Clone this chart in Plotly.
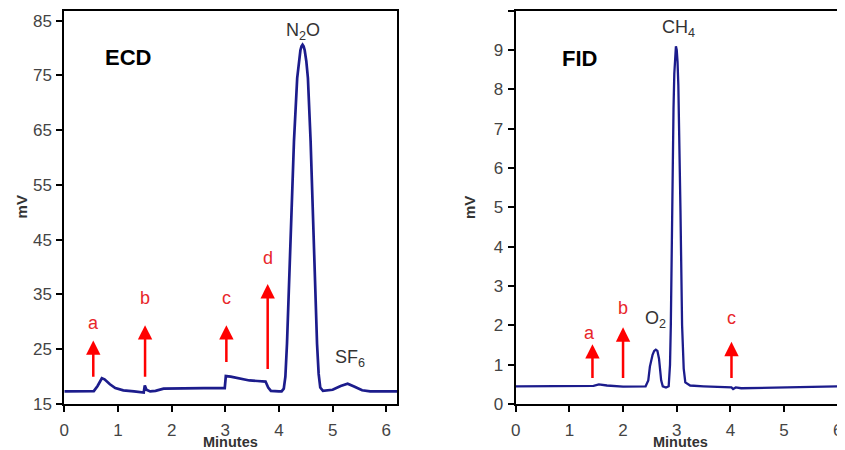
import plotly.graph_objects as go

# ---------------- data ----------------
ecd_minutes = [0.0, 0.3, 0.55, 0.62, 0.7, 0.75, 0.85, 0.95, 1.1, 1.3, 1.48, 1.5, 1.53, 1.6, 1.7, 1.85,
               2.2, 2.6, 2.99, 3.01, 3.1, 3.3, 3.45, 3.6, 3.75, 3.8, 3.85, 4.0,
               4.05, 4.09, 4.12, 4.15, 4.19, 4.23, 4.28, 4.34, 4.37, 4.40, 4.42, 4.44, 4.46, 4.48,
               4.51, 4.54, 4.59, 4.63, 4.67, 4.71, 4.74, 4.77, 4.82, 5.0, 5.15, 5.28, 5.4, 5.55,
               5.7, 6.2]
ecd_mv = [17.3, 17.3, 17.35, 18.3, 19.7, 19.5, 18.6, 17.9, 17.5, 17.3, 17.1, 18.4, 17.6, 17.3, 17.4, 17.8,
          17.9, 17.9, 17.9, 20.1, 20.0, 19.6, 19.3, 19.2, 19.1, 18.0, 17.4, 17.3,
          17.3, 17.8, 20.0, 26.0, 38.0, 50.0, 63.0, 74.5, 77.6, 79.6, 80.3, 80.6, 80.3, 79.6,
          77.6, 74.5, 63.0, 50.0, 37.0, 26.0, 20.5, 18.0, 17.4, 17.6, 18.3, 18.7, 18.2, 17.5,
          17.3, 17.3]

fid_minutes = [0.0, 1.0, 1.45, 1.55, 1.7, 2.0, 2.2, 2.42, 2.47, 2.5, 2.55, 2.58, 2.61, 2.64, 2.67,
               2.69, 2.71, 2.74, 2.8, 2.85, 2.875, 2.89, 2.91, 2.94, 2.955, 2.97, 2.985, 3.0,
               3.015, 3.03, 3.04, 3.07, 3.1, 3.13, 3.16, 3.25, 3.5, 3.9, 4.02, 4.05, 4.1, 4.2,
               5.0, 6.14]
fid_mv = [0.45, 0.45, 0.46, 0.5, 0.47, 0.44, 0.45, 0.45, 0.6, 0.95, 1.25, 1.35, 1.38, 1.35, 1.15,
          0.85, 0.6, 0.45, 0.42, 0.45, 1.0, 2.0, 4.9, 7.5, 8.4, 8.9, 9.09, 9.0,
          8.7, 8.1, 7.5, 4.9, 2.0, 0.9, 0.55, 0.47, 0.45, 0.44, 0.42, 0.38, 0.42, 0.40,
          0.42, 0.45]

ecd_arrow_labels = ["a", "b", "c", "d"]
ecd_arrow_x = [0.54, 1.505, 3.02, 3.79]
ecd_arrow_tail = [19.7, 19.7, 22.4, 21.1]
ecd_arrow_tip = [26.6, 29.4, 29.4, 36.9]
ecd_label_y = [29.8, 34.4, 34.4, 41.6]

fid_arrow_labels = ["a", "b", "c"]
fid_arrow_x = [1.43, 2.0, 4.02]
fid_arrow_tail = [0.62, 0.62, 0.62]
fid_arrow_tip = [1.52, 1.95, 1.58]
fid_label_y = [1.81, 2.44, 2.18]

ecd_xticks = [0, 1, 2, 3, 4, 5, 6]
ecd_yticks = [15, 25, 35, 45, 55, 65, 75, 85]
fid_xticks = [0, 1, 2, 3, 4, 5, 6]
fid_yticks = [0, 1, 2, 3, 4, 5, 6, 7, 8, 9, 10]

# ---------------- figure ----------------
FONT = "Arial, Liberation Sans, Helvetica, sans-serif"
LINE = "#1c1c8c"
RED = "#ff0000"
LABEL_RED = "#e8262a"
TXT = "#333333"
TICK = "#444444"

OFF = 8  # page body margin of the html page
W, H = 845 - OFF, 450 - OFF


def px(x):
    return (x - OFF) / W


def py(y):
    return 1 - (y - OFF) / H


fig = go.Figure()
fig.add_trace(go.Scatter(x=ecd_minutes, y=ecd_mv, mode="lines",
                         line=dict(color=LINE, width=2.7), xaxis="x", yaxis="y",
                         showlegend=False, hoverinfo="skip"))
fig.add_trace(go.Scatter(x=fid_minutes, y=fid_mv, mode="lines",
                         line=dict(color=LINE, width=2.3), xaxis="x2", yaxis="y2",
                         showlegend=False, hoverinfo="skip"))

yd = [py(404), py(10.5)]
axis_common = dict(showgrid=False, zeroline=False, ticks="outside", ticklen=6, tickwidth=1.5,
                   tickcolor="black", linecolor="black", linewidth=2, showline=True,
                   tickfont=dict(family=FONT, size=17, color=TICK), automargin=False)

fig.update_layout(
    width=W, height=H, margin=dict(l=0, r=0, t=0, b=0),
    paper_bgcolor="white", plot_bgcolor="white",
    xaxis=dict(domain=[px(64.3), px(397)], range=[0, 6.2], tickvals=ecd_xticks,
               mirror=True, anchor="y", ticklabelstandoff=4, **axis_common),
    yaxis=dict(domain=yd, range=[15, 86.86], tickvals=ecd_yticks, mirror=True,
               anchor="x", ticklabelstandoff=1, **axis_common),
    xaxis2=dict(domain=[px(515.7), 1.0], range=[0, 6.135], tickvals=fid_xticks,
                mirror=True, anchor="y2", ticklabelstandoff=4, **axis_common),
    yaxis2=dict(domain=yd, range=[0, 10], tickvals=fid_yticks, mirror=False,
                anchor="x2", ticklabelstandoff=1, **axis_common),
)

ann = []
for lab, x, t0, t1, ly in zip(ecd_arrow_labels, ecd_arrow_x, ecd_arrow_tail, ecd_arrow_tip, ecd_label_y):
    ann.append(dict(x=x, y=t1, ax=x, ay=t0, xref="x", yref="y", axref="x", ayref="y",
                    showarrow=True, arrowhead=2, arrowsize=1.15, arrowwidth=2.5, arrowcolor=RED, text=""))
    ann.append(dict(x=x, y=ly, xref="x", yref="y", text=lab, showarrow=False,
                    font=dict(family=FONT, size=18, color=LABEL_RED)))
for lab, x, t0, t1, ly in zip(fid_arrow_labels, fid_arrow_x, fid_arrow_tail, fid_arrow_tip, fid_label_y):
    ann.append(dict(x=x, y=t1, ax=x, ay=t0, xref="x2", yref="y2", axref="x2", ayref="y2",
                    showarrow=True, arrowhead=2, arrowsize=1.15, arrowwidth=2.5, arrowcolor=RED, text=""))
    ann.append(dict(x=x - (0.06 if lab == "a" else 0), y=ly, xref="x2", yref="y2", text=lab,
                    showarrow=False, font=dict(family=FONT, size=18, color=LABEL_RED)))

ann += [
    dict(x=4.44, y=83.0, xref="x", yref="y", text="N<sub>2</sub>O", showarrow=False,
         font=dict(family=FONT, size=18, color=TXT)),
    dict(x=5.33, y=23.4, xref="x", yref="y", text="SF<sub>6</sub>", showarrow=False,
         font=dict(family=FONT, size=18, color=TXT)),
    dict(x=1.19, y=78.2, xref="x", yref="y", text="<b>ECD</b>", showarrow=False,
         font=dict(family=FONT, size=22, color="black")),
    dict(x=3.03, y=9.54, xref="x2", yref="y2", text="CH<sub>4</sub>", showarrow=False,
         font=dict(family=FONT, size=18, color=TXT)),
    dict(x=2.6, y=2.14, xref="x2", yref="y2", text="O<sub>2</sub>", showarrow=False,
         font=dict(family=FONT, size=18, color=TXT)),
    dict(x=1.18, y=8.78, xref="x2", yref="y2", text="<b>FID</b>", showarrow=False,
         font=dict(family=FONT, size=22, color="black")),
    dict(x=px(230.8), y=py(441.5), xref="paper", yref="paper", text="<b>Minutes</b>",
         xanchor="center", yanchor="middle",
         showarrow=False, font=dict(family=FONT, size=14.5, color=TXT)),
    dict(x=px(680.7), y=py(441.5), xref="paper", yref="paper", text="<b>Minutes</b>",
         xanchor="center", yanchor="middle",
         showarrow=False, font=dict(family=FONT, size=14.5, color=TXT)),
    dict(x=px(21.7), y=py(206.7), xref="paper", yref="paper", text="<b>mV</b>",
         xanchor="center", yanchor="middle",
         showarrow=False, textangle=-90, font=dict(family=FONT, size=15, color=TXT)),
    dict(x=px(470), y=py(208), xref="paper", yref="paper", text="<b>mV</b>",
         xanchor="center", yanchor="middle",
         showarrow=False, textangle=-90, font=dict(family=FONT, size=15, color=TXT)),
]
fig.update_layout(annotations=ann)

fig.write_html("out.html")
